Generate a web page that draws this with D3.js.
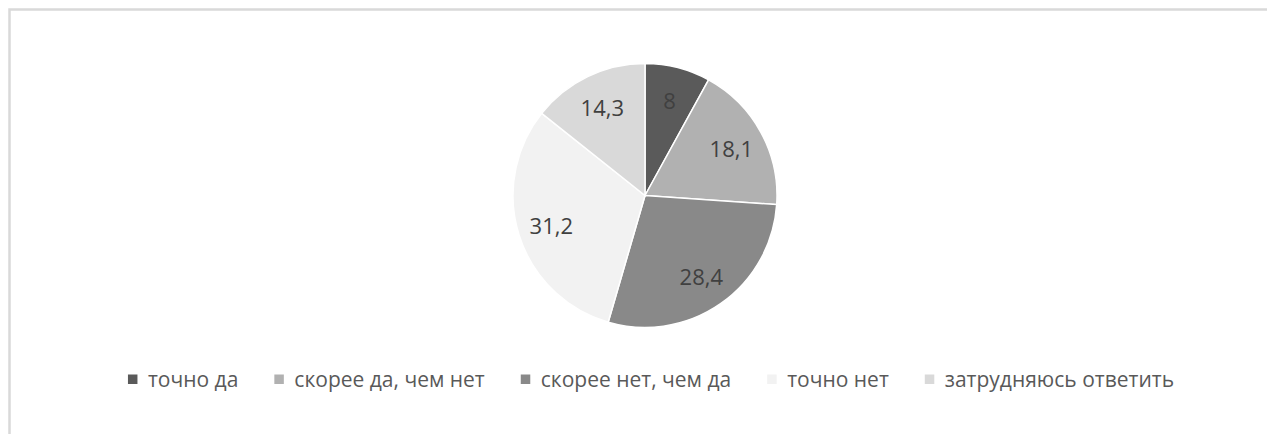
<!DOCTYPE html>
<html>
<head>
<meta charset="utf-8">
<script src="https://cdn.jsdelivr.net/npm/d3@7"></script>
<style>
  body { margin: 0; background: #fff; }
  svg { display: block; }
</style>
</head>
<body>
<div id="chart"></div>
<script>
var categories = ["точно да", "скорее да, чем нет", "скорее нет, чем да", "точно нет", "затрудняюсь ответить"];
var values = [8, 18.1, 28.4, 31.2, 14.3];
var labels = ["8", "18,1", "28,4", "31,2", "14,3"];
var colors = ["#5a5a5a", "#b1b1b1", "#898989", "#f2f2f2", "#d9d9d9"];

var width = 1267, height = 434;
var cx = 645, cy = 195.5, radius = 132;

var svg = d3.select("#chart").append("svg")
  .attr("width", width)
  .attr("height", height);

// chart frame (cut off at the right and bottom)
svg.append("rect")
  .attr("x", 9.5)
  .attr("y", 9.5)
  .attr("width", width + 20)
  .attr("height", height + 20)
  .attr("fill", "none")
  .attr("stroke", "#d9d9d9")
  .attr("stroke-width", 2.5);

var pie = d3.pie().sort(null).value((d) => d);
var arcs = pie(values);
var arc = d3.arc().innerRadius(0).outerRadius(radius);
var labelArc = d3.arc().innerRadius(radius * 0.745).outerRadius(radius * 0.745);

var g = svg.append("g")
  .attr("transform", "translate(" + cx + "," + cy + ")");

g.selectAll("path")
  .data(arcs)
  .enter()
  .append("path")
    .attr("d", arc)
    .attr("fill", (d, i) => colors[i])
    .attr("stroke", "#fff")
    .attr("stroke-width", 1.5);

g.selectAll("text")
  .data(arcs)
  .enter()
  .append("text")
    .attr("x", (d) => labelArc.centroid(d)[0])
    .attr("y", (d) => labelArc.centroid(d)[1])
    .attr("text-anchor", "middle")
    .attr("dominant-baseline", "central")
    .style("font-family", "Open Sans, sans-serif")
    .style("font-size", "22px")
    .style("fill", "#404040")
    .text((d, i) => labels[i]);

/* legend: measure items, then lay them out centred under the pie */
var legend = svg.append("g").attr("class", "legend");
var items = legend.selectAll("g")
  .data(categories)
  .enter()
  .append("g");
items.append("rect")
  .attr("width", 9.5)
  .attr("height", 9.5)
  .attr("y", -4.5)
  .attr("fill", (d, i) => colors[i]);
items.append("text")
  .attr("x", 20)
  .attr("dominant-baseline", "central")
  .style("font-family", "Open Sans, sans-serif")
  .style("font-size", "21px")
  .style("fill", "#595959")
  .text((d) => d);

var gap = 36;
var widths = [];
items.each(function () {
  widths.push(20 + d3.select(this).select("text").node().getComputedTextLength());
});
var total = d3.sum(widths) + gap * (widths.length - 1);
var x0 = 651 - total / 2;
items.attr("transform", function (d, i) {
  var x = x0 + d3.sum(widths.slice(0, i)) + gap * i;
  return "translate(" + x + ",379)";
});
</script>
</body>
</html>
